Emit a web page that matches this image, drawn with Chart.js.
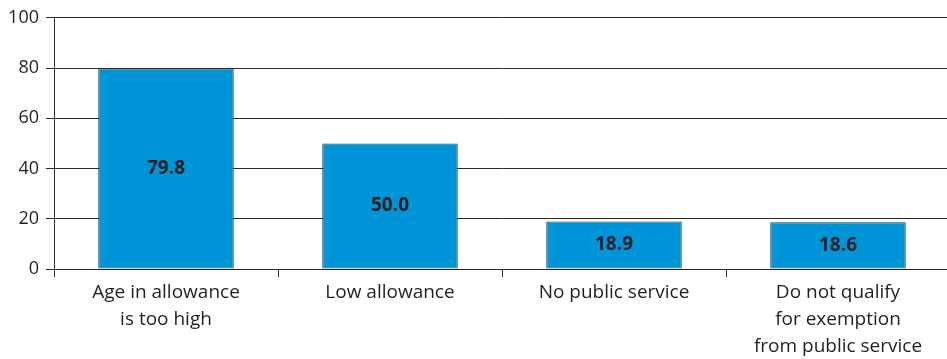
<!DOCTYPE html>
<html>
<head>
<meta charset="utf-8">
<script src="https://cdn.jsdelivr.net/npm/chart.js@4/dist/chart.umd.min.js"></script>
<style>
  html, body { margin: 0; padding: 0; background: #fff; overflow: hidden; }
  #wrap { width: 950px; height: 359px; }
</style>
</head>
<body>
<div id="wrap"><canvas id="c" width="950" height="359"></canvas></div>
<script>
// Reasons given, share of respondents (%)
const categories = [
  ['Age in allowance', 'is too high'],
  ['Low allowance'],
  ['No public service'],
  ['Do not qualify', 'for exemption', 'from public service']
];
const values = [79.8, 50.0, 18.9, 18.6];
const yTicks = [0, 20, 40, 60, 80, 100];

const INK = '#231f20';
const LINE = '#2b2b2b';
const FONT = '"Open Sans", Lato, "DejaVu Sans", sans-serif';

// Writes each bar's value in the middle of the bar
const barValueLabels = {
  id: 'barValueLabels',
  afterDatasetsDraw(chart) {
    const ctx = chart.ctx;
    const meta = chart.getDatasetMeta(0);
    ctx.save();
    ctx.font = 'bold 19px ' + FONT;
    ctx.fillStyle = INK;
    ctx.textAlign = 'center';
    ctx.textBaseline = 'middle';
    meta.data.forEach((bar, i) => {
      const v = chart.data.datasets[0].data[i];
      ctx.fillText(v.toFixed(1), bar.x, (bar.y + bar.base) / 2);
    });
    ctx.restore();
  }
};

new Chart(document.getElementById('c'), {
  type: 'bar',
  data: {
    labels: categories,
    datasets: [{
      data: values,
      backgroundColor: '#0095d8',
      borderColor: '#3a3a3a',
      borderWidth: 1,
      borderSkipped: false,
      barPercentage: 0.605,
      categoryPercentage: 1.0
    }]
  },
  options: {
    responsive: false,
    animation: false,
    devicePixelRatio: 1,
    layout: { padding: { top: 17, right: 0, bottom: 0, left: 0 } },
    plugins: {
      legend: { display: false },
      tooltip: { enabled: false }
    },
    scales: {
      x: {
        offset: true,
        grid: {
          offset: true,
          drawOnChartArea: false,
          drawTicks: true,
          tickLength: 8,
          color: LINE,
          lineWidth: 1
        },
        border: { display: true, color: LINE, width: 1 },
        ticks: {
          autoSkip: false,
          maxRotation: 0,
          minRotation: 0,
          padding: 2,
          color: INK,
          font: { family: FONT, size: 19, lineHeight: 1.42 }
        },
        afterFit(scale) { scale.height = 90; }
      },
      y: {
        min: 0,
        max: 100,
        afterBuildTicks(scale) { scale.ticks = yTicks.map(v => ({ value: v })); },
        grid: {
          color: LINE,
          lineWidth: 1,
          drawTicks: true,
          tickLength: 8
        },
        border: { display: true, color: LINE, width: 1 },
        ticks: {
          padding: 7,
          color: INK,
          font: { family: FONT, size: 18 }
        },
        afterFit(scale) { scale.width = 54; }
      }
    }
  },
  plugins: [barValueLabels]
});
</script>
</body>
</html>
